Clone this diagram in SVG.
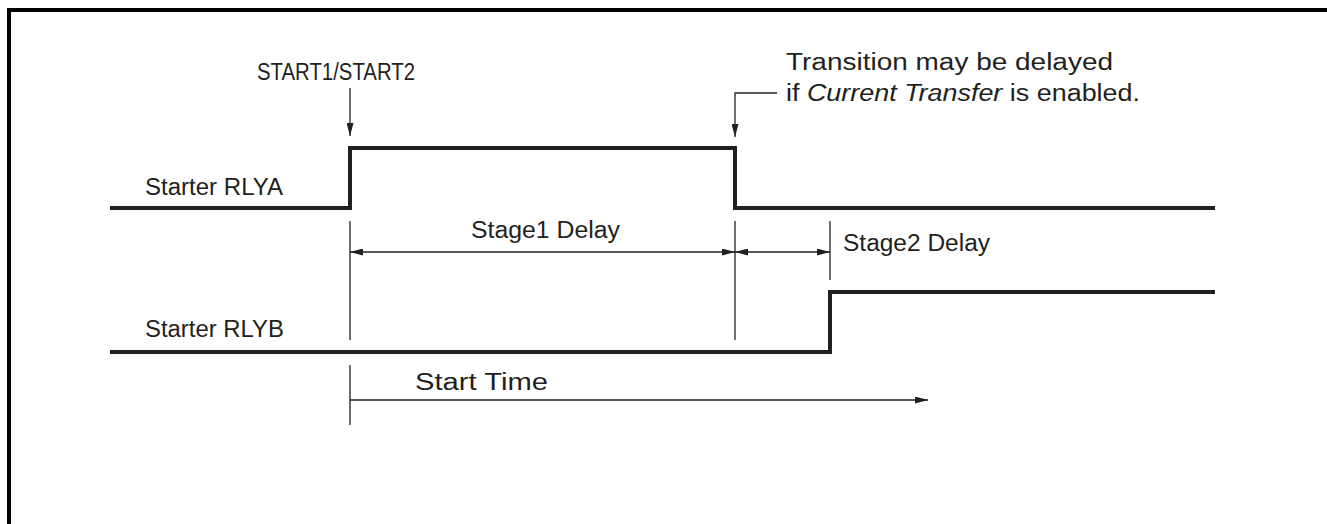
<svg xmlns="http://www.w3.org/2000/svg" width="1327" height="524" viewBox="0 0 1327 524">
<style>
.frame{fill:none;stroke:#000;stroke-width:4}
.wave{fill:none;stroke:#231f20;stroke-width:4;stroke-linejoin:miter;stroke-linecap:butt}
.thin{fill:none;stroke:#231f20;stroke-width:1.3}
.lbl{font-family:"Liberation Sans",Arial,sans-serif;font-size:23px;fill:#231f20}
</style>
<defs>
<marker id="ah" viewBox="0 0 13 7" refX="13" refY="3.5" markerWidth="13" markerHeight="7" markerUnits="userSpaceOnUse" orient="auto-start-reverse">
<path d="M0,0 L13,3.5 L0,7 Z" fill="#231f20"/>
</marker>
</defs>
<rect width="1327" height="524" fill="#fff"/>
<path class="frame" d="M9,524 V10 H1327"/>
<g id="rlya">
<path class="wave" d="M110,208 H350 V148 H735 V208 H1215"/>
<text class="lbl" x="145" y="195" textLength="138" lengthAdjust="spacingAndGlyphs">Starter RLYA</text>
</g>
<g id="rlyb">
<path class="wave" d="M110,352 H830 V292 H1215"/>
<text class="lbl" x="145" y="337" textLength="139" lengthAdjust="spacingAndGlyphs">Starter RLYB</text>
</g>
<g id="start-label">
<text class="lbl" x="257" y="80" textLength="158" lengthAdjust="spacingAndGlyphs">START1/START2</text>
</g>
<g id="transition-note">
<text class="lbl" x="786" y="70" textLength="327" lengthAdjust="spacingAndGlyphs">Transition may be delayed</text>
<text class="lbl" x="786" y="101" textLength="354" lengthAdjust="spacingAndGlyphs">if <tspan font-style="italic">Current Transfer</tspan> is enabled.</text>
</g>
<g id="stage1">
<text class="lbl" x="471" y="238" textLength="149" lengthAdjust="spacingAndGlyphs">Stage1 Delay</text>
</g>
<g id="stage2">
<text class="lbl" x="843" y="251" textLength="147" lengthAdjust="spacingAndGlyphs">Stage2 Delay</text>
</g>
<g id="starttime">
<text class="lbl" x="415" y="390" textLength="133" lengthAdjust="spacingAndGlyphs">Start Time</text>
</g>
<g id="connectors">
<line class="thin" x1="350" y1="88" x2="350" y2="136" marker-end="url(#ah)"/>
<path class="thin" d="M777,93 H735 V137" marker-end="url(#ah)"/>
<line class="thin" x1="350" y1="221" x2="350" y2="340"/>
<line class="thin" x1="735" y1="221" x2="735" y2="340"/>
<line class="thin" x1="830" y1="221" x2="830" y2="280"/>
<line class="thin" x1="350" y1="252" x2="735" y2="252" marker-start="url(#ah)" marker-end="url(#ah)"/>
<line class="thin" x1="735" y1="252" x2="830" y2="252" marker-start="url(#ah)" marker-end="url(#ah)"/>
<line class="thin" x1="350" y1="365" x2="350" y2="425"/>
<line class="thin" x1="350" y1="400" x2="928" y2="400" marker-end="url(#ah)"/>
</g>
</svg>
